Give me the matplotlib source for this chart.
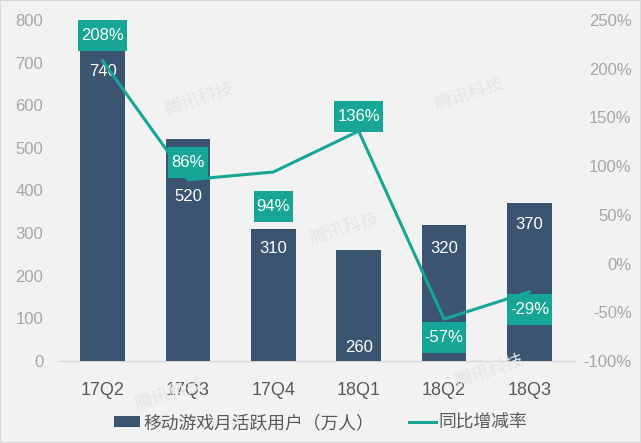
import matplotlib
matplotlib.use('Agg')
import matplotlib.pyplot as plt
import matplotlib.ticker as mticker
from matplotlib.patches import Rectangle

# data
quarters = ['17Q2', '17Q3', '17Q4', '18Q1', '18Q2', '18Q3']
mau = [740, 520, 310, 260, 320, 370]          # 移动游戏月活跃用户（万人）
yoy = [208, 86, 94, 136, -57, -29]            # 同比增减率 (%)
bar_name = '移动游戏月活跃用户（万人）'
line_name = '同比增减率'
watermark = '腾讯科技'

# layout / style (offsets in pixels)
bar_label_dy = [-26, -57, -20, None, -24, -21]   # None -> label at base
pct_label_dy = [25, 17, -35, 15, -18, -18]

BAR_C = '#3B5570'
TEAL = '#17A596'
BG = '#F2F2F2'

plt.rcParams['font.family'] = ['Liberation Sans', 'Noto Sans CJK SC']

fig = plt.figure(figsize=(6.41, 4.43), dpi=100, facecolor=BG)
ax = fig.add_axes((60 / 641, 1 - 361 / 443, 512 / 641, 341 / 443))
ax.set_facecolor(BG)
ax2 = ax.twinx()

x = list(range(len(quarters)))
bars = ax.bar(x, mau, width=0.52, color=BAR_C, zorder=2)
ax.set_xlim(-0.5, len(quarters) - 0.5)
ax.set_ylim(0, 800)
ax.yaxis.set_major_locator(mticker.MultipleLocator(100))
ax.set_xticks(x)
ax.set_xticklabels(quarters)

for a in (ax, ax2):
    for s in a.spines.values():
        s.set_visible(False)
ax.axhline(0, color='#D9D9D9', lw=1, zorder=1, xmax=1.006, clip_on=False)

ax.tick_params(axis='y', length=0, pad=12, labelsize=12, labelcolor='#A6A6A6')
ax.tick_params(axis='x', length=0, pad=15, labelsize=13, labelcolor='#595959')

px = 72 / fig.dpi
for i, v in enumerate(mau):
    if bar_label_dy[i] is None:
        ax.annotate(str(v), (i, 0), xytext=(0, 13 * px), textcoords='offset points',
                    ha='center', va='center', color='white', fontsize=12, zorder=3)
    else:
        ax.annotate(str(v), (i, v), xytext=(0, bar_label_dy[i] * px), textcoords='offset points',
                    ha='center', va='center', color='white', fontsize=12, zorder=3)

ax2.plot(x, yoy, color=TEAL, lw=2.2, zorder=2, label=line_name)
ax2.set_ylim(-100, 250)
ax2.yaxis.set_major_locator(mticker.MultipleLocator(50))
ax2.yaxis.set_major_formatter(mticker.FuncFormatter(lambda v, p: f'{v:.0f}%'))
ax2.tick_params(axis='y', length=0, labelsize=12, labelcolor='#A6A6A6')
for lab in ax2.get_yticklabels():
    lab.set_horizontalalignment('right')
ax2.yaxis.set_tick_params(pad=43)

pct_texts = []
for i, v in enumerate(yoy):
    t = ax2.annotate(f'{v}%', (i, v), xytext=(0, pct_label_dy[i] * px), textcoords='offset points',
                     ha='center', va='center', color='white', fontsize=12, zorder=5)
    pct_texts.append(t)

# teal boxes behind percentage labels (wider vertical padding than horizontal)
fig.canvas.draw()
inv = ax2.transAxes.inverted()
for t in pct_texts:
    bb = t.get_window_extent()
    cx, cy = (bb.x0 + bb.x1) / 2, (bb.y0 + bb.y1) / 2
    w, h = bb.width + 6, 31
    (x0, y0), (x1, y1) = inv.transform([(cx - w / 2, cy - h / 2), (cx + w / 2, cy + h / 2)])
    ax2.add_patch(Rectangle((x0, y0), x1 - x0, y1 - y0, transform=ax2.transAxes,
                            fc=TEAL, ec='none', zorder=4, clip_on=False))

# watermarks
for wx, wy in [(200, 100), (470, 95), (345, 230), (170, 395), (490, 372)]:
    fig.text(wx / 641, 1 - wy / 443, watermark, rotation=18, ha='center', va='center',
             fontsize=13, color='#E5E5E5', family='Noto Sans CJK SC', zorder=0)

leg = fig.legend([bars, ax2.lines[0]], [bar_name, line_name], loc='center',
                 bbox_to_anchor=(0.5, 1 - 423 / 443), ncol=2, frameon=False,
                 handlelength=1.5, handleheight=0.55, handletextpad=0.15,
                 columnspacing=2.0, prop={'family': 'Noto Sans CJK SC', 'size': 12.8})
for t in leg.get_texts():
    t.set_color('#595959')

fig.patches.append(Rectangle((0, 0), 1, 1, transform=fig.transFigure, fill=False,
                             ec='#D9D9D9', lw=1.5))

fig.savefig('out.png', dpi=100, facecolor=BG)
